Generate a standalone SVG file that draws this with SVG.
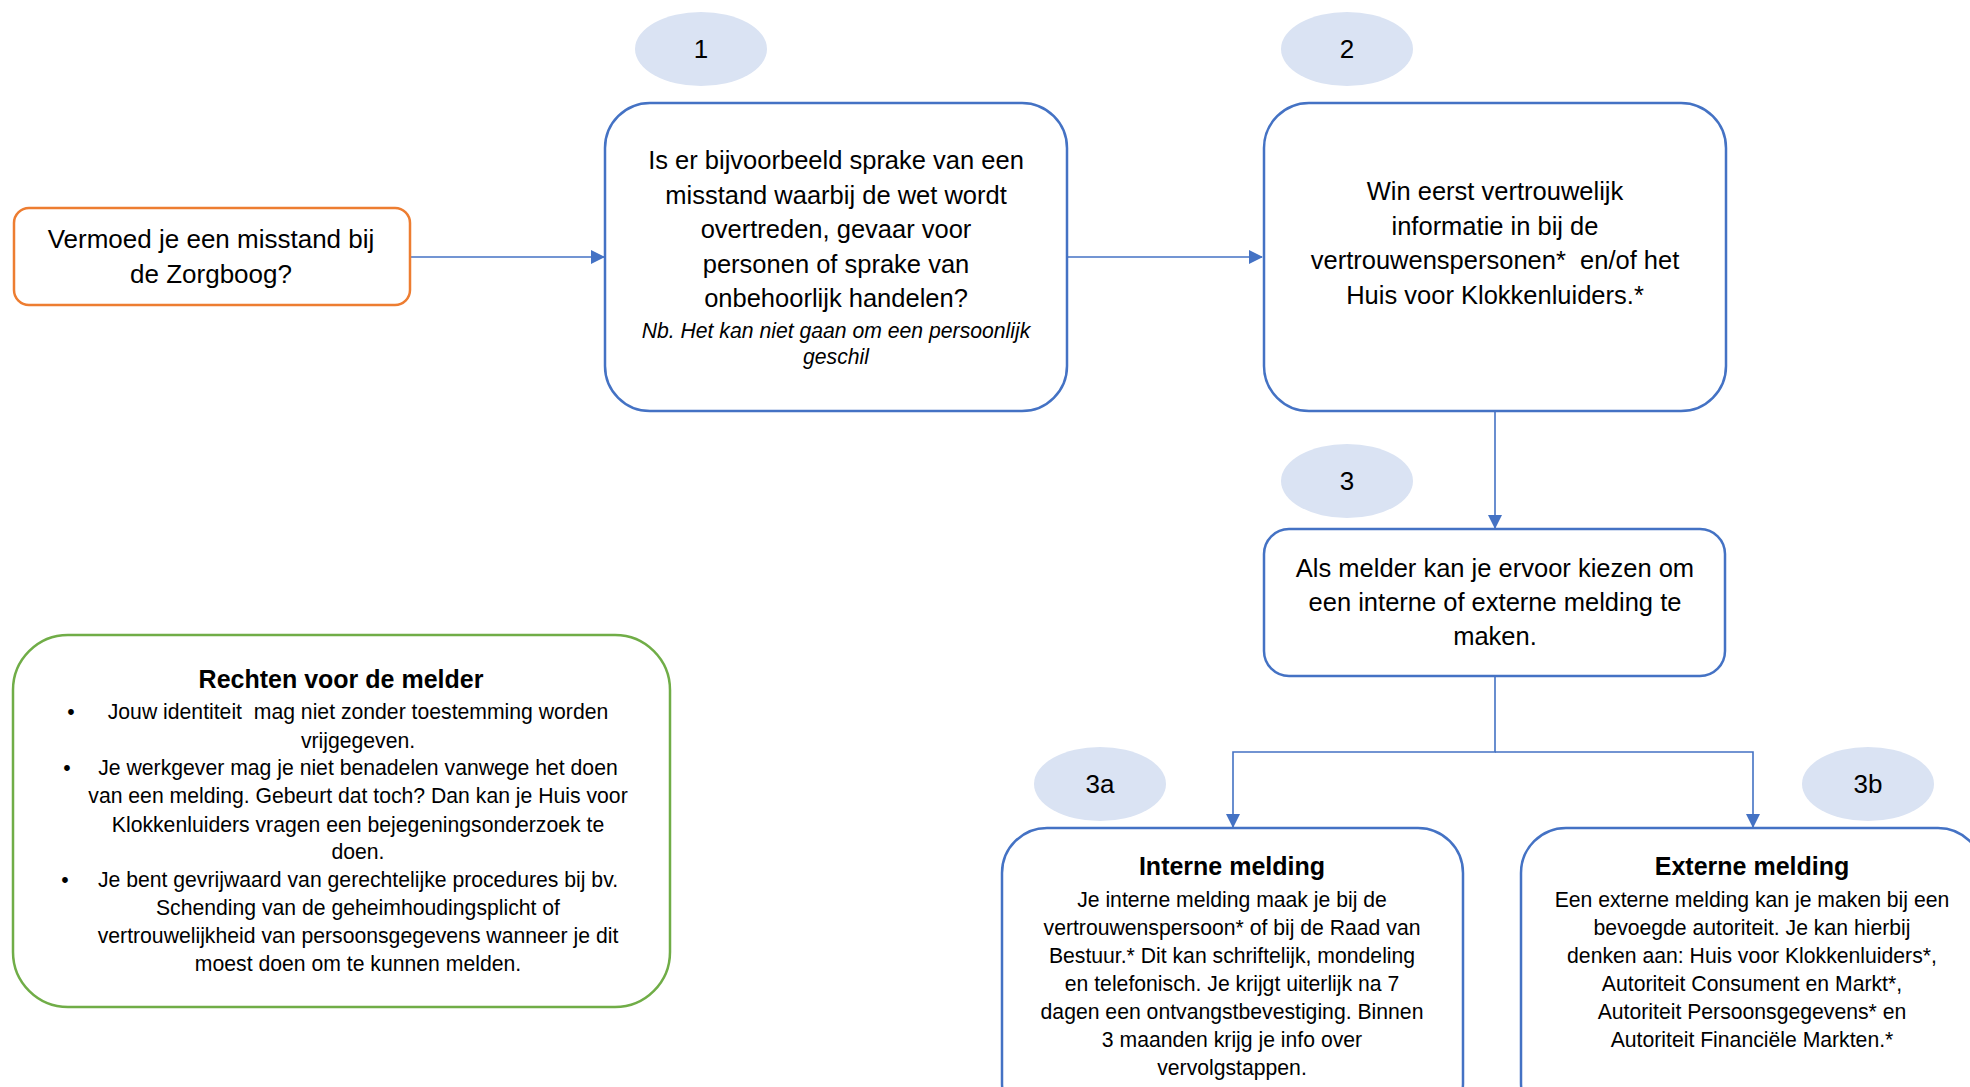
<svg xmlns="http://www.w3.org/2000/svg" width="1970" height="1087" viewBox="0 0 1970 1087">
<style>
text{font-family:"Liberation Sans",Arial,sans-serif;fill:#000;text-anchor:middle}
.m{font-size:25.5px}
.s{font-size:21.2px}
.i{font-size:21.2px;font-style:italic}
.b{font-size:25px;font-weight:bold}
.n{font-size:26px}
.pre{white-space:pre}
.blue{fill:#fff;stroke:#4472C4;stroke-width:2.5}
.circ{fill:#DAE3F3;stroke:none}
.con{fill:none;stroke:#4472C4;stroke-width:1.6}
</style>
<defs>
<marker id="ah" markerWidth="14" markerHeight="14" refX="13" refY="7" orient="auto" markerUnits="userSpaceOnUse">
<path d="M0,0 L14,7 L0,14 Z" fill="#4472C4"/>
</marker>
</defs>
<rect width="1970" height="1087" fill="#fff"/>
<g id="connectors">
<line class="con" x1="410" y1="257" x2="604" y2="257" marker-end="url(#ah)"/>
<line class="con" x1="1068" y1="257" x2="1262" y2="257" marker-end="url(#ah)"/>
<line class="con" x1="1495" y1="411" x2="1495" y2="528" marker-end="url(#ah)"/>
<polyline class="con" points="1495,676 1495,752 1233,752 1233,827" marker-end="url(#ah)"/>
<polyline class="con" points="1495,752 1753,752 1753,827" marker-end="url(#ah)"/>
</g>
<g id="start">
<rect x="14" y="208" width="396" height="97" rx="15" fill="#fff" stroke="#ED7D31" stroke-width="2.5"/>
<text class="n" x="211" y="248">Vermoed je een misstand bij</text>
<text class="n" x="211" y="283">de Zorgboog?</text>
</g>
<g id="badge1">
<ellipse class="circ" cx="701" cy="49" rx="66" ry="37"/>
<text class="n" x="701" y="58">1</text>
</g>
<g id="step1">
<rect class="blue" x="605" y="103" width="462" height="308" rx="45"/>
<text class="m" x="836" y="169">Is er bijvoorbeeld sprake van een</text>
<text class="m" x="836" y="204">misstand waarbij de wet wordt</text>
<text class="m" x="836" y="238">overtreden, gevaar voor</text>
<text class="m" x="836" y="273">personen of sprake van</text>
<text class="m" x="836" y="307">onbehoorlijk handelen?</text>
<text class="i" x="836" y="338">Nb. Het kan niet gaan om een persoonlijk</text>
<text class="i" x="836" y="364">geschil</text>
</g>
<g id="badge2">
<ellipse class="circ" cx="1347" cy="49" rx="66" ry="37"/>
<text class="n" x="1347" y="58">2</text>
</g>
<g id="step2">
<rect class="blue" x="1264" y="103" width="462" height="308" rx="45"/>
<text class="m" x="1495" y="200">Win eerst vertrouwelijk</text>
<text class="m" x="1495" y="235">informatie in bij de</text>
<text class="m pre" x="1495" y="269">vertrouwenspersonen*  en/of het</text>
<text class="m" x="1495" y="304">Huis voor Klokkenluiders.*</text>
</g>
<g id="badge3">
<ellipse class="circ" cx="1347" cy="481" rx="66" ry="37"/>
<text class="n" x="1347" y="490">3</text>
</g>
<g id="step3">
<rect class="blue" x="1264" y="529" width="461" height="147" rx="25"/>
<text class="m" x="1495" y="577">Als melder kan je ervoor kiezen om</text>
<text class="m" x="1495" y="611">een interne of externe melding te</text>
<text class="m" x="1495" y="645">maken.</text>
</g>
<g id="badge3a">
<ellipse class="circ" cx="1100" cy="784" rx="66" ry="37"/>
<text class="n" x="1100" y="793">3a</text>
</g>
<g id="badge3b">
<ellipse class="circ" cx="1868" cy="784" rx="66" ry="37"/>
<text class="n" x="1868" y="793">3b</text>
</g>
<g id="intern">
<rect class="blue" x="1002" y="828" width="461" height="300" rx="45"/>
<text class="b" x="1232" y="875">Interne melding</text>
<text class="s" x="1232" y="907">Je interne melding maak je bij de</text>
<text class="s" x="1232" y="935">vertrouwenspersoon* of bij de Raad van</text>
<text class="s" x="1232" y="963">Bestuur.* Dit kan schriftelijk, mondeling</text>
<text class="s" x="1232" y="991">en telefonisch. Je krijgt uiterlijk na 7</text>
<text class="s" x="1232" y="1019">dagen een ontvangstbevestiging. Binnen</text>
<text class="s" x="1232" y="1047">3 maanden krijg je info over</text>
<text class="s" x="1232" y="1075">vervolgstappen.</text>
</g>
<g id="extern">
<rect class="blue" x="1521" y="828" width="462" height="300" rx="45"/>
<text class="b" x="1752" y="875">Externe melding</text>
<text class="s" x="1752" y="907">Een externe melding kan je maken bij een</text>
<text class="s" x="1752" y="935">bevoegde autoriteit. Je kan hierbij</text>
<text class="s" x="1752" y="963">denken aan: Huis voor Klokkenluiders*,</text>
<text class="s" x="1752" y="991">Autoriteit Consument en Markt*,</text>
<text class="s" x="1752" y="1019">Autoriteit Persoonsgegevens* en</text>
<text class="s" x="1752" y="1047">Autoriteit Financiële Markten.*</text>
</g>
<g id="rechten">
<rect x="13" y="635" width="657" height="372" rx="55" fill="#fff" stroke="#70AD47" stroke-width="2.5"/>
<text class="b" x="341" y="688">Rechten voor de melder</text>
<text class="s" x="71" y="719">•</text>
<text class="s pre" x="358" y="719">Jouw identiteit  mag niet zonder toestemming worden</text>
<text class="s" x="358" y="748">vrijgegeven.</text>
<text class="s" x="67" y="775">•</text>
<text class="s" x="358" y="775">Je werkgever mag je niet benadelen vanwege het doen</text>
<text class="s" x="358" y="803">van een melding. Gebeurt dat toch? Dan kan je Huis voor</text>
<text class="s" x="358" y="832">Klokkenluiders vragen een bejegeningsonderzoek te</text>
<text class="s" x="358" y="859">doen.</text>
<text class="s" x="65" y="887">•</text>
<text class="s" x="358" y="887">Je bent gevrijwaard van gerechtelijke procedures bij bv.</text>
<text class="s" x="358" y="915">Schending van de geheimhoudingsplicht of</text>
<text class="s" x="358" y="943">vertrouwelijkheid van persoonsgegevens wanneer je dit</text>
<text class="s" x="358" y="971">moest doen om te kunnen melden.</text>
</g>
</svg>
